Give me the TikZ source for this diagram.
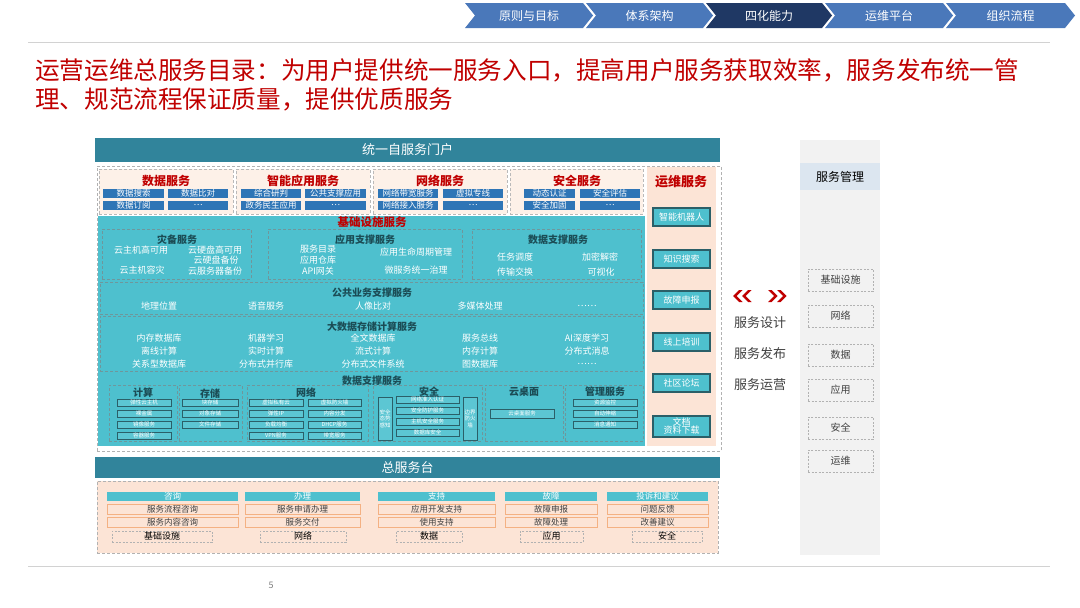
\documentclass[tikz,border=0pt]{standalone}
\usepackage{fontspec}
\setmainfont{Noto Sans CJK SC}
\definecolor{teal1}{HTML}{31849B}
\definecolor{cyan1}{HTML}{4EC0CE}
\definecolor{cyan2}{HTML}{5CC6D3}
\definecolor{peach}{HTML}{FCE4D6}
\definecolor{lpeach}{HTML}{FDF1E8}
\definecolor{blue1}{HTML}{2E75B6}
\definecolor{red1}{HTML}{C00000}
\definecolor{navlight}{HTML}{4A78BA}
\definecolor{navdark}{HTML}{1F3864}
\definecolor{dk}{HTML}{1B4C55}
\definecolor{dk2}{HTML}{2B5F68}
\definecolor{dash1}{HTML}{6E979C}
\definecolor{rpanel}{HTML}{F2F2F2}
\definecolor{rhead}{HTML}{DCE6F0}
\definecolor{porange}{HTML}{F4B183}
\definecolor{txt}{HTML}{404040}
\newcommand{\fs}[1]{\fontsize{#1}{#1}\selectfont}
\newcommand{\bx}[7]{\node[#2,minimum width={(#5)-(#3)},minimum height={(#6)-(#4)}] (#1) at ({((#3)+(#5))/2},{((#4)+(#6))/2}) {#7};}
\begin{document}
\begin{tikzpicture}[x=1pt,y=-1pt,
  box/.style={inner sep=0pt,outer sep=0pt,align=center},
  band/.style={box,fill=teal1,text=white,font=\fs{13}},
  grp/.style={box,fill=lpeach,draw=gray!55,dashed,dash pattern=on 3pt off 2pt,line width=0.6pt},
  bluebox/.style={box,fill=blue1,text=white,font=\fs{8.5}},
  redh/.style={box,text=red1,font=\bfseries\fs{12}},
  cdash/.style={box,draw=dash1,dash pattern=on 3pt off 2pt,line width=0.6pt},
  ttl/.style={box,text=dk,font=\bfseries\fs{10}},
  item/.style={box,text=white,font=\fs{9}},
  ywbox/.style={box,fill=cyan1,draw=dk2,line width=1.1pt,text=white,font=\fs{9}},
  tiny/.style={box,fill=cyan2,draw=dk2,line width=0.6pt,text=white,font=\fs{5.5}},
  hbar/.style={box,fill=cyan1,text=white,font=\fs{8.5}},
  pitem/.style={box,fill=peach,draw=porange,line width=0.5pt,text=txt,font=\fs{8.5}},
  pdash/.style={box,draw=gray!60,dash pattern=on 2pt off 1.5pt,line width=0.5pt,text=black,font=\fs{9}},
  rdash/.style={box,draw=gray!60,dash pattern=on 2pt off 1.5pt,line width=0.5pt,text=txt,font=\fs{10}},
  side/.style={box,text=txt,font=\fs{13}}]
\useasboundingbox (0,0) rectangle (1080,608);
\fill[white] (0,0) rectangle (1080,608);
% navigation
\foreach \L/\R/\c/\t/\n in {465/583/navlight/原则与目标/n1,586/703/navlight/体系架构/n2,706/822/navdark/四化能力/n3,825/943/navlight/运维平台/n4,946/1065/navlight/组织流程/n5}{
  \fill[\c] (\L,3) -- (\R,3) -- (\R+10,15.5) -- (\R,28) -- (\L,28) -- (\L+10,15.5) -- cycle;
  \node[font=\fs{12},text=white,inner sep=0] (\n) at ({(\L+\R)/2+5},15.5) {\t};
}
\draw[gray!35,line width=0.8pt] (28,42) -- (1050,42);
\draw[gray!35,line width=0.8pt] (28,566) -- (1050,566);
\node[font=\fs{9},text=gray,inner sep=0] (pg) at (271,585) {5};
% title
\node[anchor=west,inner sep=0,text=red1,font=\fs{24.6}] (t1) at (35,70) {运营运维总服务目录：为用户提供统一服务入口，提高用户服务获取效率，服务发布统一管};
\node[anchor=west,inner sep=0,text=red1,font=\fs{24.6}] (t2) at (35,99) {理、规范流程保证质量，提供优质服务};
% portal
\bx{portal}{band}{95}{138}{720}{162}{统一自服务门户}
\bx{outer}{box,draw=gray!60,dash pattern=on 3pt off 2pt,line width=0.6pt}{97}{166}{721}{451}{}
\bx{opscol}{box,fill=peach}{647}{167}{716}{446}{}
\bx{cyanbg}{box,fill=cyan1}{98}{216}{645}{446}{}
% top groups
\bx{g1}{grp}{99}{169}{233}{214}{}
\bx{g2}{grp}{236}{169}{370}{214}{}
\bx{g3}{grp}{373}{169}{507}{214}{}
\bx{g4}{grp}{510}{169}{643}{214}{}
\node[redh] (g1h) at (166,181) {数据服务};
\node[redh] (g2h) at (303,181) {智能应用服务};
\node[redh] (g3h) at (440,181) {网络服务};
\node[redh] (g4h) at (577,181) {安全服务};
\bx{g1a}{bluebox}{103}{189}{164}{198}{数据搜索}
\bx{g1b}{bluebox}{168}{189}{228}{198}{数据比对}
\bx{g1c}{bluebox}{103}{201}{164}{210}{数据订阅}
\bx{g1d}{bluebox}{168}{201}{228}{210}{…}
\bx{g2a}{bluebox}{241}{189}{301}{198}{综合研判}
\bx{g2b}{bluebox}{305}{189}{366}{198}{公共支撑应用}
\bx{g2c}{bluebox}{241}{201}{301}{210}{政务民生应用}
\bx{g2d}{bluebox}{305}{201}{366}{210}{…}
\bx{g3a}{bluebox}{378}{189}{438}{198}{网络带宽服务}
\bx{g3b}{bluebox}{443}{189}{503}{198}{虚拟专线}
\bx{g3c}{bluebox}{378}{201}{438}{210}{网络接入服务}
\bx{g3d}{bluebox}{443}{201}{503}{210}{…}
\bx{g4a}{bluebox}{524}{189}{575}{198}{动态认证}
\bx{g4b}{bluebox}{580}{189}{640}{198}{安全评估}
\bx{g4c}{bluebox}{524}{201}{575}{210}{安全加固}
\bx{g4d}{bluebox}{580}{201}{640}{210}{…}
% ops column
\node[redh,font=\bfseries\fs{13}] (opsh) at (681,182) {运维服务};
\foreach \a/\t/\n in {208/智能机器人/o1,250/知识搜索/o2,291/故障申报/o3,333/线上培训/o4,374/社区论坛/o5}{
  \bx{\n}{ywbox}{653}{\a}{710}{\a+18}{\t}
}
\bx{o6}{ywbox}{653}{416}{710}{437}{文档\\[-1pt]资料下载}
% infrastructure
\node[box,text=red1,font=\bfseries\fs{11.5}] (infra) at (372,222) {基础设施服务};
\bx{r1a}{cdash}{102}{229}{251}{279}{}
\bx{r1b}{cdash}{268}{229}{462}{279}{}
\bx{r1c}{cdash}{472}{229}{641}{279}{}
\node[ttl] (dr) at (177,240) {灾备服务};
\node[item] (dr1) at (141,250) {云主机高可用};
\node[item] (dr2) at (215,250) {云硬盘高可用};
\node[item] (dr3) at (216,260) {云硬盘备份};
\node[item] (dr4) at (142,270) {云主机容灾};
\node[item] (dr5) at (215,271) {云服务器备份};
\node[ttl] (as) at (365,240) {应用支撑服务};
\node[item] (as1) at (318,249) {服务目录};
\node[item] (as2) at (318,260) {应用仓库};
\node[item] (as3) at (318,271) {API网关};
\node[item] (as4) at (416,252) {应用生命周期管理};
\node[item] (as5) at (416,270) {微服务统一治理};
\node[ttl] (ds) at (558,240) {数据支撑服务};
\node[item] (ds1) at (515,257) {任务调度};
\node[item] (ds2) at (600,257) {加密解密};
\node[item] (ds3) at (515,272) {传输交换};
\node[item] (ds4) at (601,272) {可视化};
% public business row
\bx{r2}{cdash}{100}{282}{643}{314}{}
\node[ttl] (pb) at (372,293) {公共业务支撑服务};
\foreach \t [count=\i] in {地理位置,语音服务,人像比对,多媒体处理,……}{
  \node[item] (pb\i) at ({52+107*\i},306) {\t};
}
% big data row
\bx{r3}{cdash}{100}{316}{643}{371}{}
\node[ttl] (bd) at (372,327) {大数据存储计算服务};
\foreach \t [count=\i] in {内存数据库,机器学习,全文数据库,服务总线,AI深度学习}{
  \node[item] (bda\i) at ({52+107*\i},338) {\t};
}
\foreach \t [count=\i] in {离线计算,实时计算,流式计算,内存计算,分布式消息}{
  \node[item] (bdb\i) at ({52+107*\i},351) {\t};
}
\foreach \t [count=\i] in {关系型数据库,分布式并行库,分布式文件系统,图数据库,……}{
  \node[item] (bdc\i) at ({52+107*\i},364) {\t};
}
% data support row
\node[ttl] (dsr) at (372,381) {数据支撑服务};
\bx{c1}{cdash}{109}{385}{177}{441}{}
\bx{c2}{cdash}{179}{385}{242}{441}{}
\bx{c3}{cdash}{247}{385}{368}{441}{}
\bx{c4}{cdash}{373}{385}{482}{441}{}
\bx{c5}{cdash}{485}{385}{563}{441}{}
\bx{c6}{cdash}{565}{385}{643}{441}{}
\node[ttl] (c1t) at (143,393) {计算};
\node[ttl] (c2t) at (210,394) {存储};
\node[ttl] (c3t) at (306,393) {网络};
\node[ttl] (c4t) at (429,392) {安全};
\node[ttl] (c5t) at (524,392) {云桌面};
\node[ttl] (c6t) at (605,392) {管理服务};
\foreach \t [count=\i] in {弹性云主机,裸金属,镜像服务,容器服务}{
  \bx{js\i}{tiny}{117}{388+11*\i}{171}{395+11*\i}{\t}
}
\foreach \t [count=\i] in {块存储,对象存储,文件存储}{
  \bx{cc\i}{tiny}{182}{388+11*\i}{238}{395+11*\i}{\t}
}
\foreach \t [count=\i] in {虚拟私有云,弹性IP,负载均衡,VPN服务}{
  \bx{wl\i}{tiny}{249}{388+11*\i}{303}{395+11*\i}{\t}
}
\foreach \t [count=\i] in {虚拟防火墙,内容分发,DHCP服务,带宽服务}{
  \bx{wr\i}{tiny}{308}{388+11*\i}{361}{395+11*\i}{\t}
}
\bx{aql}{tiny}{378}{397}{392}{440}{安全\\[1pt]态势\\[1pt]感知}
\bx{aqr}{tiny}{463}{397}{477}{440}{边界\\[1pt]防火\\[1pt]墙}
\foreach \t [count=\i] in {网络准入认证,安全防护服务,主机安全服务,数据库安全}{
  \bx{aq\i}{tiny}{396}{385+11*\i}{459}{392+11*\i}{\t}
}
\bx{yz1}{tiny}{490}{409}{554}{418}{云桌面服务}
\foreach \t [count=\i] in {资源监控,自动伸缩,消息通知}{
  \bx{gl\i}{tiny}{573}{388+11*\i}{637}{395+11*\i}{\t}
}
% service desk
\bx{desk}{band}{95}{457}{720}{478}{总服务台}
\bx{deskbg}{box,fill=peach,draw=gray!60,dash pattern=on 3pt off 2pt,line width=0.6pt}{97}{481}{718}{553}{}
\foreach \xa/\xb/\h/\pa/\pb/\dl/\dr/\d/\n in {107/238/咨询/服务流程咨询/服务内容咨询/112/212/基础设施/a,245/360/办理/服务申请办理/服务交付/260/346/网络/b,378/495/支持/应用开发支持/使用支持/396/462/数据/c,505/597/故障/故障申报/故障处理/520/583/应用/d,607/708/投诉和建议/问题反馈/改善建议/632/702/安全/e}{
  \bx{bh\n}{hbar}{\xa}{492}{\xb}{501}{\h}
  \bx{bp\n}{pitem}{\xa}{504}{\xb}{514}{\pa}
  \bx{bq\n}{pitem}{\xa}{517}{\xb}{527}{\pb}
  \bx{bd\n}{pdash}{\dl}{531}{\dr}{542}{\d}
}
% middle arrows and labels
\foreach \s in {733,742}{
  \fill[red1] (\s,296) -- (\s+6,290) -- (\s+9.5,290) -- (\s+3.5,296) -- (\s+9.5,302) -- (\s+6,302) -- cycle;
}
\foreach \s in {768,777}{
  \fill[red1] (\s+9.5,296) -- (\s+3.5,290) -- (\s,290) -- (\s+6,296) -- (\s,302) -- (\s+3.5,302) -- cycle;
}
\node[side] (sd) at (760,323) {服务设计};
\node[side] (sf) at (760,354) {服务发布};
\node[side] (sy) at (760,385) {服务运营};
% right panel
\bx{rp}{box,fill=rpanel}{800}{140}{880}{555}{}
\bx{rph}{box,fill=rhead,text=black,font=\fs{12}}{800}{163}{880}{190}{服务管理}
\foreach \c/\t/\n in {280/基础设施/m1,316/网络/m2,355/数据/m3,390/应用/m4,428/安全/m5,461/运维/m6}{
  \bx{\n}{rdash}{808}{\c-11}{873}{\c+11}{\t}
}
\end{tikzpicture}
\end{document}
